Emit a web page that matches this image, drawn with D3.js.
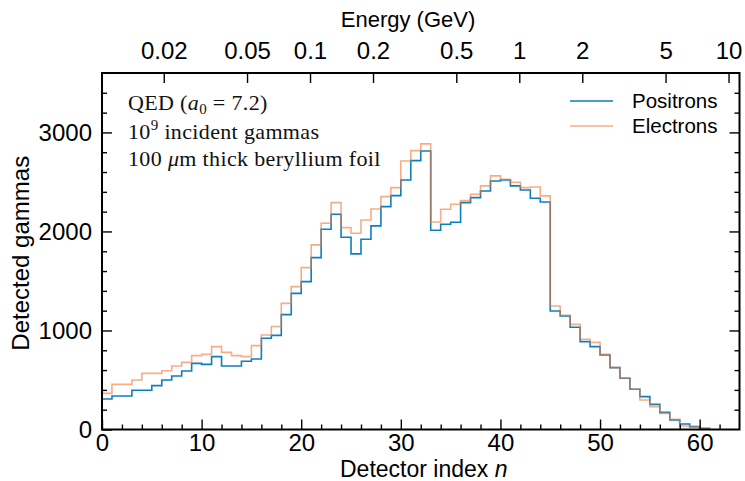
<!DOCTYPE html>
<html>
<head>
<meta charset="utf-8">
<script src="https://cdn.jsdelivr.net/npm/d3@7"></script>
<style>
  body { margin: 0; background: #fff; }
  svg { display: block; }
  .tick text { font-family: "Liberation Sans", Arial, sans-serif; }
</style>
</head>
<body>
<svg id="chart" width="745" height="481"></svg>
<script>
// Detected gammas per detector index (one value per bin)
const positrons = [308, 338, 338, 396, 396, 443, 500, 540, 591, 668,
    658, 736, 641, 641, 689, 712, 921, 950, 1160, 1375,
    1493, 1736, 2022, 2173, 1941, 1773, 1921, 2056, 2251, 2362,
    2520, 2715, 2813, 2012, 2072, 2093, 2291, 2342, 2409, 2510,
    2520, 2460, 2419, 2335, 2298, 1197, 1146, 1032, 887, 837,
    753, 625, 517, 406, 332, 254, 173, 96, 56, 29, 12];
const electrons = [365, 456, 456, 500, 567, 567, 594, 641, 678, 746,
    759, 837, 779, 746, 736, 847, 955, 1040, 1274, 1443,
    1635, 1864, 2082, 2291, 2039, 1982, 2116, 2227, 2352, 2443,
    2712, 2816, 2884, 2096, 2224, 2274, 2311, 2375, 2460, 2561,
    2527, 2497, 2443, 2449, 2359, 1247, 1153, 1062, 911, 880,
    759, 625, 517, 406, 298, 231, 163, 103, 35, 25, 8];

const seriesNames = ["Positrons", "Electrons"];
const xTicks = [0, 10, 20, 30, 40, 50, 60];
const yTicks = [0, 1000, 2000, 3000];

// top axis: photon energy at the detector index (two calibration points)
const energyTicks = [0.02, 0.05, 0.1, 0.2, 0.5, 1, 2, 5, 10];
const energyLabels = ["0.02", "0.05", "0.1", "0.2", "0.5", "1", "2", "5", "10"];
const energyCalib = {E: [0.02, 10], n: [6.2, 62.9]};

const config = {
    width: 745, height: 481,
    margin: {top: 73, right: 5.5, bottom: 51.5, left: 102},
    colors: ["#0077bb", "#ee7733"],
    opacity: [0.95, 0.6]
};

const width = config.width - config.margin.left - config.margin.right;
const height = config.height - config.margin.top - config.margin.bottom;

const svg = d3.select("#chart");
const g = svg.append("g")
    .attr("transform", `translate(${config.margin.left},${config.margin.top})`);

// scales
const xScale = d3.scaleLinear().domain([0, 64]).range([0, width]);
const yScale = d3.scaleLinear().domain([0, 3600]).range([height, 0]);
const eScale = d3.scaleLog().domain(energyCalib.E)
    .range(energyCalib.n.map(d => xScale(d)));

// step line, one horizontal segment per detector bin
const toSteps = vals => [[0, 0]].concat(vals.map((v, i) => [i, v]), [[vals.length, 0]]);
const line = d3.line()
    .x(d => xScale(d[0]))
    .y(d => yScale(d[1]))
    .curve(d3.curveStepAfter);

[positrons, electrons].forEach((vals, i) => {
    g.append("path")
        .datum(toSteps(vals))
        .attr("fill", "none")
        .attr("stroke", config.colors[i])
        .attr("stroke-opacity", config.opacity[i])
        .attr("stroke-width", 1.6)
        .attr("d", line);
});

// axes, ticks pointing inward on all four sides
const styleAxis = (sel, fs) => {
    sel.select(".domain").remove();
    sel.selectAll(".tick line").attr("stroke", "#000").attr("stroke-width", 1.4);
    sel.selectAll(".tick text").attr("font-size", fs).attr("fill", "#000");
};
const tickFs = 24;

g.append("g").attr("transform", `translate(0,${height})`)
    .call(d3.axisBottom(xScale).tickValues(xTicks).tickSize(-10).tickPadding(4))
    .call(s => styleAxis(s, tickFs));
g.append("g").attr("transform", `translate(0,${height})`)
    .call(d3.axisBottom(xScale).tickValues(d3.range(0, 64, 2).filter(d => d % 10)).tickSize(-5).tickFormat(""))
    .call(s => styleAxis(s, tickFs));

g.append("g")
    .call(d3.axisLeft(yScale).tickValues(yTicks).tickSize(-10).tickPadding(10).tickFormat(d3.format("d")))
    .call(s => styleAxis(s, tickFs));
g.append("g")
    .call(d3.axisLeft(yScale).tickValues(d3.range(200, 3600, 200).filter(d => d % 1000)).tickSize(-5).tickFormat(""))
    .call(s => styleAxis(s, tickFs));
g.append("g").attr("transform", `translate(${width},0)`)
    .call(d3.axisRight(yScale).tickValues(d3.range(1000, 3600, 1000)).tickSize(-10).tickFormat(""))
    .call(s => styleAxis(s, tickFs));
g.append("g").attr("transform", `translate(${width},0)`)
    .call(d3.axisRight(yScale).tickValues(d3.range(200, 3600, 200).filter(d => d % 1000)).tickSize(-5).tickFormat(""))
    .call(s => styleAxis(s, tickFs));

g.append("g")
    .call(d3.axisTop(eScale).tickValues(energyTicks).tickSize(-10).tickPadding(14)
        .tickFormat((d, i) => energyLabels[i]))
    .call(s => styleAxis(s, tickFs));

// frame
g.append("rect")
    .attr("width", width).attr("height", height)
    .attr("fill", "none").attr("stroke", "#000").attr("stroke-width", 2);

// axis titles
svg.append("text")
    .attr("x", config.margin.left + width / 2 + 3).attr("y", 477)
    .attr("text-anchor", "middle")
    .attr("font-family", "Liberation Sans, Arial, sans-serif").attr("font-size", 23)
    .call(t => {
        t.append("tspan").text("Detector index ");
        t.append("tspan").attr("font-style", "italic").text("n");
    });
svg.append("text")
    .attr("transform", `translate(29,${config.margin.top + height / 2 + 2}) rotate(-90)`)
    .attr("text-anchor", "middle")
    .attr("font-family", "Liberation Sans, Arial, sans-serif").attr("font-size", 24)
    .text("Detected gammas");
svg.append("text")
    .attr("x", 408).attr("y", 27)
    .attr("text-anchor", "middle")
    .attr("font-family", "Liberation Sans, Arial, sans-serif").attr("font-size", 22)
    .text("Energy (GeV)");

// annotation block
const note = svg.append("g")
    .attr("font-family", "Liberation Serif, serif").attr("font-size", 22)
    .attr("letter-spacing", 0.35).attr("fill", "#111");
note.append("text").attr("x", 128).attr("y", 110).call(t => {
    t.append("tspan").text("QED (");
    t.append("tspan").attr("font-style", "italic").text("a");
    t.append("tspan").attr("font-size", 15).attr("dy", 4).text("0");
    t.append("tspan").attr("dy", -4).text(" = 7.2)");
});
note.append("text").attr("x", 128).attr("y", 139).call(t => {
    t.append("tspan").text("10");
    t.append("tspan").attr("font-size", 15).attr("dy", -9).text("9");
    t.append("tspan").attr("dy", 9).text(" incident gammas");
});
note.append("text").attr("x", 128).attr("y", 166).call(t => {
    t.append("tspan").text("100 ");
    t.append("tspan").attr("font-style", "italic").text("μ");
    t.append("tspan").text("m thick beryllium foil");
});

// legend
const legend = svg.append("g").attr("transform", "translate(570,101)");
seriesNames.forEach((name, i) => {
    const row = legend.append("g").attr("transform", `translate(0,${i * 25})`);
    row.append("line").attr("x1", 0).attr("x2", 43)
        .attr("stroke", config.colors[i]).attr("stroke-opacity", config.opacity[i])
        .attr("stroke-width", 1.6);
    row.append("text").attr("x", 62).attr("y", 7)
        .attr("font-family", "Liberation Sans, Arial, sans-serif").attr("font-size", 20.5)
        .text(name);
});
</script>
</body>
</html>
